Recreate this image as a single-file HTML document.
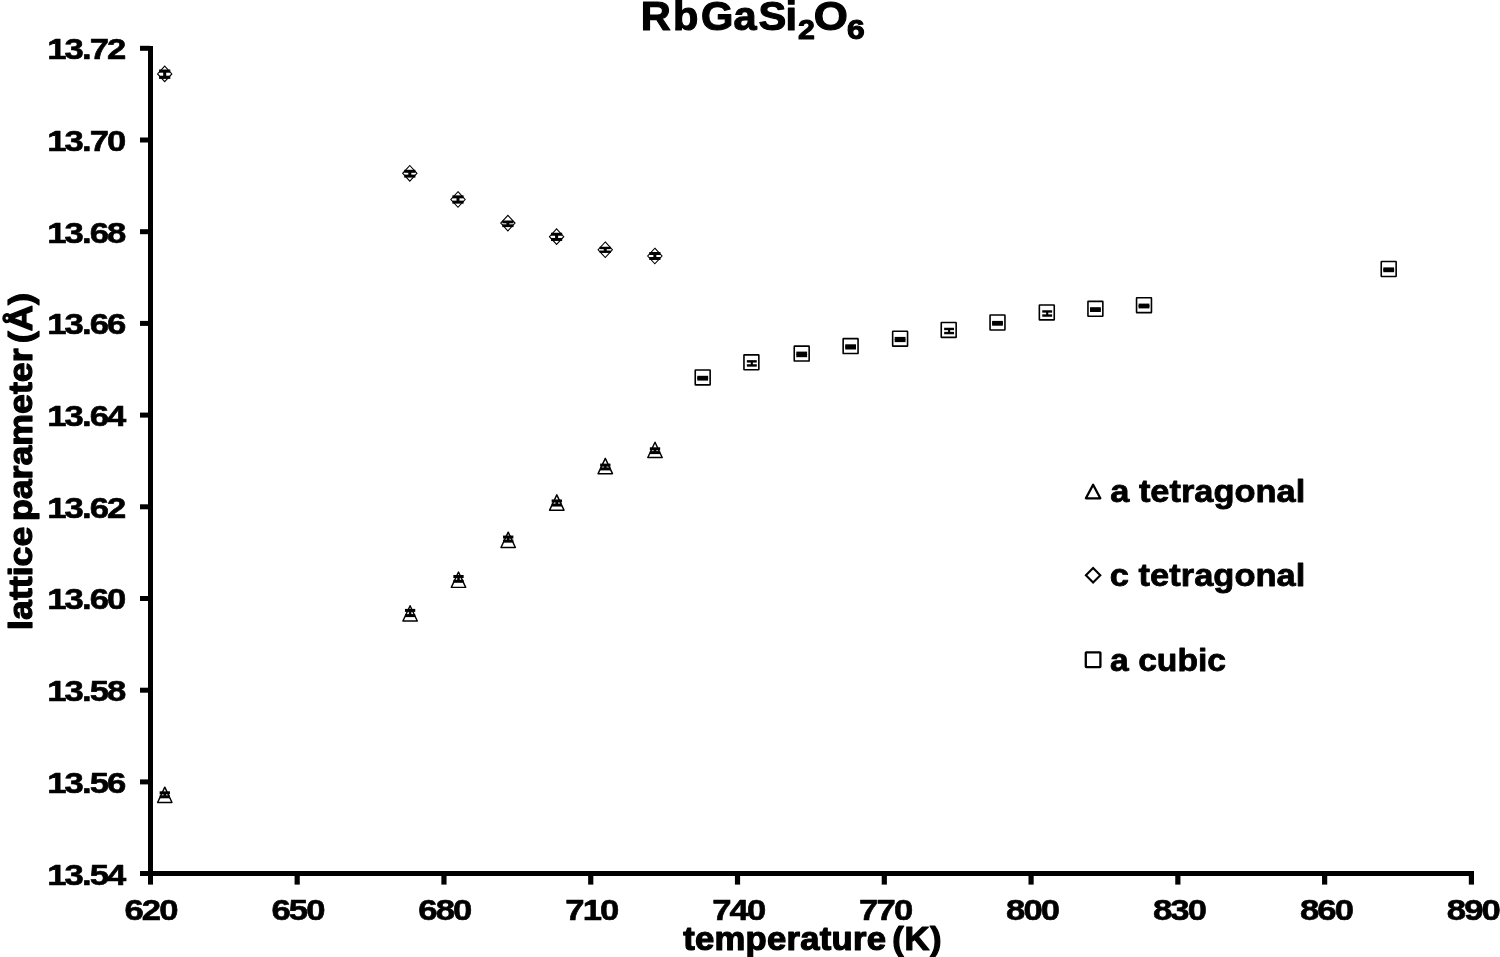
<!DOCTYPE html>
<html><head><meta charset="utf-8"><title>RbGaSi2O6 lattice parameters</title>
<style>
html,body{margin:0;padding:0;background:#fff;}
body{width:1500px;height:957px;overflow:hidden;}
svg{display:block;}
text{font-family:"Liberation Sans",sans-serif;font-weight:bold;}
</style></head><body>
<svg width="1500" height="957" viewBox="0 0 1500 957">
<rect width="1500" height="957" fill="#fff"/>
<g fill="#000">
<rect x="148" y="46" width="5" height="838.6"/>
<rect x="140" y="871" width="1334" height="5"/>
<rect x="140" y="45.80" width="10" height="5"/>
<rect x="140" y="137.50" width="10" height="5"/>
<rect x="140" y="229.20" width="10" height="5"/>
<rect x="140" y="320.90" width="10" height="5"/>
<rect x="140" y="412.60" width="10" height="5"/>
<rect x="140" y="504.30" width="10" height="5"/>
<rect x="140" y="596.00" width="10" height="5"/>
<rect x="140" y="687.70" width="10" height="5"/>
<rect x="140" y="779.40" width="10" height="5"/>
<rect x="294.58" y="873" width="5.2" height="11.6"/>
<rect x="441.36" y="873" width="5.2" height="11.6"/>
<rect x="588.14" y="873" width="5.2" height="11.6"/>
<rect x="734.92" y="873" width="5.2" height="11.6"/>
<rect x="881.70" y="873" width="5.2" height="11.6"/>
<rect x="1028.48" y="873" width="5.2" height="11.6"/>
<rect x="1175.26" y="873" width="5.2" height="11.6"/>
<rect x="1322.04" y="873" width="5.2" height="11.6"/>
<rect x="1468.82" y="873" width="5.2" height="11.6"/>
</g>
<g font-family="'Liberation Sans', sans-serif" font-weight="bold" fill="#000" stroke="#000" stroke-linejoin="round">
<text transform="translate(47.19,59.20) scale(1.1640,1)" font-size="29.8" stroke-width="0.6" letter-spacing="-1.630">13.72</text>
<text transform="translate(47.19,150.90) scale(1.1640,1)" font-size="29.8" stroke-width="0.6" letter-spacing="-1.630">13.70</text>
<text transform="translate(47.19,242.60) scale(1.1640,1)" font-size="29.8" stroke-width="0.6" letter-spacing="-1.630">13.68</text>
<text transform="translate(47.19,334.30) scale(1.1640,1)" font-size="29.8" stroke-width="0.6" letter-spacing="-1.630">13.66</text>
<text transform="translate(47.19,426.00) scale(1.1640,1)" font-size="29.8" stroke-width="0.6" letter-spacing="-1.630">13.64</text>
<text transform="translate(47.19,517.70) scale(1.1640,1)" font-size="29.8" stroke-width="0.6" letter-spacing="-1.630">13.62</text>
<text transform="translate(47.19,609.40) scale(1.1640,1)" font-size="29.8" stroke-width="0.6" letter-spacing="-1.630">13.60</text>
<text transform="translate(47.19,701.10) scale(1.1640,1)" font-size="29.8" stroke-width="0.6" letter-spacing="-1.630">13.58</text>
<text transform="translate(47.19,792.80) scale(1.1640,1)" font-size="29.8" stroke-width="0.6" letter-spacing="-1.630">13.56</text>
<text transform="translate(47.19,884.50) scale(1.1640,1)" font-size="29.8" stroke-width="0.6" letter-spacing="-1.630">13.54</text>
<text transform="translate(124.46,920.30) scale(1.1640,1)" font-size="29.8" stroke-width="0.6" letter-spacing="-1.630">620</text>
<text transform="translate(271.39,920.30) scale(1.1640,1)" font-size="29.8" stroke-width="0.6" letter-spacing="-1.630">650</text>
<text transform="translate(418.32,920.30) scale(1.1640,1)" font-size="29.8" stroke-width="0.6" letter-spacing="-1.630">680</text>
<text transform="translate(565.25,920.30) scale(1.1640,1)" font-size="29.8" stroke-width="0.6" letter-spacing="-1.630">710</text>
<text transform="translate(712.18,920.30) scale(1.1640,1)" font-size="29.8" stroke-width="0.6" letter-spacing="-1.630">740</text>
<text transform="translate(859.11,920.30) scale(1.1640,1)" font-size="29.8" stroke-width="0.6" letter-spacing="-1.630">770</text>
<text transform="translate(1006.04,920.30) scale(1.1640,1)" font-size="29.8" stroke-width="0.6" letter-spacing="-1.630">800</text>
<text transform="translate(1152.97,920.30) scale(1.1640,1)" font-size="29.8" stroke-width="0.6" letter-spacing="-1.630">830</text>
<text transform="translate(1299.90,920.30) scale(1.1640,1)" font-size="29.8" stroke-width="0.6" letter-spacing="-1.630">860</text>
<text transform="translate(1446.83,920.30) scale(1.1640,1)" font-size="29.8" stroke-width="0.6" letter-spacing="-1.630">890</text>
<text transform="translate(683.18,950.40) scale(1.0500,1)" font-size="33" stroke-width="1.2" letter-spacing="0.251" >temperature</text>
<text transform="translate(892.37,950.40) scale(1.0500,1)" font-size="33" stroke-width="1.2" letter-spacing="0.548" >(K)</text>
<text transform="translate(0,29.7) scale(1.04,1)" font-size="40" stroke-width="1.1" x="616.22 647.00 674.00 705.38 729.27 755.18">RbGaSi</text>
<text transform="translate(797.90,38.70) scale(1.0640,1)" font-size="28.5" stroke-width="1.1" >2</text>
<text transform="translate(813.75,29.70) scale(1.0974,1)" font-size="40" stroke-width="1.1" >O</text>
<text transform="translate(846.88,38.70) scale(1.1178,1)" font-size="28.5" stroke-width="1.1" >6</text>
<text transform="translate(32.30,629.89) rotate(-90) scale(1.0660,1)" font-size="33.5" stroke-width="1.2" >lattice</text>
<text transform="translate(32.30,521.05) rotate(-90) scale(1.0654,1)" font-size="33.5" stroke-width="1.2" >parameter</text>
<text transform="translate(32.30,343.20) rotate(-90) scale(1.0795,1)" font-size="33.5" stroke-width="1.2" >(Å)</text>
<text transform="translate(1110.19,501.60) scale(1.0930,1)" font-size="31.5" stroke-width="0.8" >a tetragonal</text>
<text transform="translate(1109.85,585.80) scale(1.0949,1)" font-size="31.5" stroke-width="0.8" >c tetragonal</text>
<text transform="translate(1110.11,670.80) scale(1.0684,1)" font-size="31.5" stroke-width="0.8" >a cubic</text>
</g>
<g fill="#000">
<path d="M164.70 66.10L171.85 73.90L164.70 81.70L157.55 73.90Z" fill="none" stroke="#000" stroke-width="1.1"/>
<rect x="159.10" y="69.50" width="11.2" height="3.2"/><rect x="159.10" y="75.70" width="11.2" height="3.2"/><rect x="163.20" y="71.10" width="3.0" height="6.20"/>
<path d="M409.80 165.50L416.95 173.30L409.80 181.10L402.65 173.30Z" fill="none" stroke="#000" stroke-width="1.1"/>
<rect x="404.20" y="169.80" width="11.2" height="3.0"/><rect x="404.20" y="174.60" width="11.2" height="3.0"/><rect x="408.30" y="171.30" width="3.0" height="4.80"/>
<path d="M458.00 191.70L465.15 199.50L458.00 207.30L450.85 199.50Z" fill="none" stroke="#000" stroke-width="1.1"/>
<rect x="452.40" y="195.35" width="11.2" height="3.0"/><rect x="452.40" y="200.65" width="11.2" height="3.0"/><rect x="456.50" y="196.85" width="3.0" height="5.30"/>
<path d="M507.90 215.30L515.05 223.10L507.90 230.90L500.75 223.10Z" fill="none" stroke="#000" stroke-width="1.1"/>
<rect x="502.30" y="220.50" width="11.2" height="2.8"/><rect x="502.30" y="224.30" width="11.2" height="2.8"/><rect x="506.40" y="221.90" width="3.0" height="3.80"/>
<path d="M556.60 228.85L563.75 236.65L556.60 244.45L549.45 236.65Z" fill="none" stroke="#000" stroke-width="1.1"/>
<rect x="551.00" y="232.75" width="11.2" height="3.0"/><rect x="551.00" y="237.95" width="11.2" height="3.0"/><rect x="555.10" y="234.25" width="3.0" height="5.20"/>
<path d="M605.25 241.95L612.40 249.75L605.25 257.55L598.10 249.75Z" fill="none" stroke="#000" stroke-width="1.1"/>
<rect x="599.65" y="246.75" width="11.2" height="2.4"/><rect x="599.65" y="250.55" width="11.2" height="2.4"/><rect x="603.75" y="247.95" width="3.0" height="3.80"/>
<path d="M654.85 248.20L662.00 256.00L654.85 263.80L647.70 256.00Z" fill="none" stroke="#000" stroke-width="1.1"/>
<rect x="649.25" y="252.00" width="11.2" height="3.0"/><rect x="649.25" y="257.00" width="11.2" height="3.0"/><rect x="653.35" y="253.50" width="3.0" height="5.00"/>
<path d="M164.80 787.15L172.00 802.45L157.60 802.45Z" fill="none" stroke="#000" stroke-width="1.45" stroke-linejoin="round"/>
<rect x="159.65" y="791.30" width="10.3" height="3.0"/><rect x="159.65" y="795.30" width="10.3" height="3.0"/><rect x="163.50" y="792.80" width="2.6" height="4.00"/>
<path d="M410.10 605.75L417.30 621.05L402.90 621.05Z" fill="none" stroke="#000" stroke-width="1.45" stroke-linejoin="round"/>
<rect x="404.95" y="608.90" width="10.3" height="3.0"/><rect x="404.95" y="614.10" width="10.3" height="3.0"/><rect x="408.80" y="610.40" width="2.6" height="5.20"/>
<path d="M458.50 572.05L465.70 587.35L451.30 587.35Z" fill="none" stroke="#000" stroke-width="1.45" stroke-linejoin="round"/>
<rect x="453.35" y="575.00" width="10.3" height="3.0"/><rect x="453.35" y="579.80" width="10.3" height="3.0"/><rect x="457.20" y="576.50" width="2.6" height="4.80"/>
<path d="M508.20 532.15L515.40 547.45L501.00 547.45Z" fill="none" stroke="#000" stroke-width="1.45" stroke-linejoin="round"/>
<rect x="503.05" y="535.55" width="10.3" height="3.0"/><rect x="503.05" y="539.65" width="10.3" height="3.0"/><rect x="506.90" y="537.05" width="2.6" height="4.10"/>
<path d="M556.80 494.85L564.00 510.15L549.60 510.15Z" fill="none" stroke="#000" stroke-width="1.45" stroke-linejoin="round"/>
<rect x="551.65" y="499.45" width="10.3" height="3.0"/><rect x="551.65" y="503.55" width="10.3" height="3.0"/><rect x="555.50" y="500.95" width="2.6" height="4.10"/>
<path d="M605.30 458.35L612.50 473.65L598.10 473.65Z" fill="none" stroke="#000" stroke-width="1.45" stroke-linejoin="round"/>
<rect x="600.15" y="463.60" width="10.3" height="3.0"/><rect x="600.15" y="467.40" width="10.3" height="3.0"/><rect x="604.00" y="465.10" width="2.6" height="3.80"/>
<path d="M655.00 442.25L662.20 457.55L647.80 457.55Z" fill="none" stroke="#000" stroke-width="1.45" stroke-linejoin="round"/>
<rect x="649.85" y="447.30" width="10.3" height="3.0"/><rect x="649.85" y="451.10" width="10.3" height="3.0"/><rect x="653.70" y="448.80" width="2.6" height="3.80"/>
<rect x="695.25" y="369.95" width="14.90" height="14.90" rx="0.4" fill="none" stroke="#000" stroke-width="1.6"/>
<rect x="697.30" y="375.80" width="10.8" height="3.2"/><rect x="697.30" y="377.40" width="10.8" height="3.2"/><rect x="701.20" y="377.40" width="3.0" height="1.60"/>
<rect x="743.95" y="354.85" width="14.90" height="14.90" rx="0.4" fill="none" stroke="#000" stroke-width="1.6"/>
<rect x="746.85" y="360.15" width="9.9" height="2.4"/><rect x="746.85" y="364.25" width="9.9" height="2.4"/><rect x="750.75" y="361.35" width="2.1" height="4.10"/>
<rect x="794.25" y="346.15" width="14.90" height="14.90" rx="0.4" fill="none" stroke="#000" stroke-width="1.6"/>
<rect x="796.30" y="351.60" width="10.8" height="3.2"/><rect x="796.30" y="354.00" width="10.8" height="3.2"/><rect x="800.20" y="353.20" width="3.0" height="2.40"/>
<rect x="843.15" y="338.65" width="14.90" height="14.90" rx="0.4" fill="none" stroke="#000" stroke-width="1.6"/>
<rect x="845.20" y="344.30" width="10.8" height="3.2"/><rect x="845.20" y="346.30" width="10.8" height="3.2"/><rect x="849.10" y="345.90" width="3.0" height="2.00"/>
<rect x="892.65" y="331.25" width="14.90" height="14.90" rx="0.4" fill="none" stroke="#000" stroke-width="1.6"/>
<rect x="894.70" y="336.90" width="10.8" height="3.2"/><rect x="894.70" y="338.90" width="10.8" height="3.2"/><rect x="898.60" y="338.50" width="3.0" height="2.00"/>
<rect x="941.25" y="322.45" width="14.90" height="14.90" rx="0.4" fill="none" stroke="#000" stroke-width="1.6"/>
<rect x="944.15" y="327.75" width="9.9" height="2.4"/><rect x="944.15" y="331.85" width="9.9" height="2.4"/><rect x="948.05" y="328.95" width="2.1" height="4.10"/>
<rect x="990.05" y="315.05" width="14.90" height="14.90" rx="0.4" fill="none" stroke="#000" stroke-width="1.6"/>
<rect x="992.10" y="320.90" width="10.8" height="3.2"/><rect x="992.10" y="322.50" width="10.8" height="3.2"/><rect x="996.00" y="322.50" width="3.0" height="1.60"/>
<rect x="1039.35" y="304.95" width="14.90" height="14.90" rx="0.4" fill="none" stroke="#000" stroke-width="1.6"/>
<rect x="1042.25" y="310.25" width="9.9" height="2.4"/><rect x="1042.25" y="314.35" width="9.9" height="2.4"/><rect x="1046.15" y="311.45" width="2.1" height="4.10"/>
<rect x="1087.95" y="301.35" width="14.90" height="14.90" rx="0.4" fill="none" stroke="#000" stroke-width="1.6"/>
<rect x="1090.00" y="307.20" width="10.8" height="3.2"/><rect x="1090.00" y="308.80" width="10.8" height="3.2"/><rect x="1093.90" y="308.80" width="3.0" height="1.60"/>
<rect x="1136.55" y="297.75" width="14.90" height="14.90" rx="0.4" fill="none" stroke="#000" stroke-width="1.6"/>
<rect x="1138.60" y="303.60" width="10.8" height="3.2"/><rect x="1138.60" y="305.20" width="10.8" height="3.2"/><rect x="1142.50" y="305.20" width="3.0" height="1.60"/>
<rect x="1381.25" y="261.55" width="14.90" height="14.90" rx="0.4" fill="none" stroke="#000" stroke-width="1.6"/>
<rect x="1383.30" y="267.40" width="10.8" height="3.2"/><rect x="1383.30" y="269.00" width="10.8" height="3.2"/><rect x="1387.20" y="269.00" width="3.0" height="1.60"/>
</g>
<path d="M1093.1 484.8L1100.3 498.3L1085.9 498.3Z" fill="none" stroke="#000" stroke-width="2.3" stroke-linejoin="round"/>
<path d="M1093.1 568.0L1100.3 575.3L1093.1 582.6L1085.9 575.3Z" fill="none" stroke="#000" stroke-width="2.1"/>
<rect x="1085.8" y="652.3" width="14.6" height="14.8" rx="0.5" fill="none" stroke="#000" stroke-width="2.3"/>
</svg>
</body></html>
